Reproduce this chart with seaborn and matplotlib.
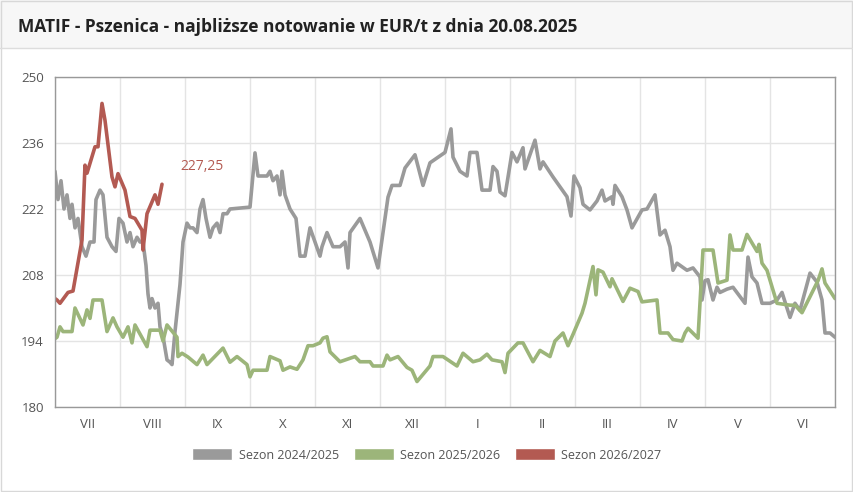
import numpy as np
import pandas as pd
import matplotlib
matplotlib.use("Agg")
import matplotlib.pyplot as plt
from matplotlib.patches import Rectangle
import seaborn as sns

# season position (0..780 = Jul 1 .. Jun 30, 65 units per month), price EUR/t
months = ["VII", "VIII", "IX", "X", "XI", "XII", "I", "II", "III", "IV", "V", "VI"]
series_names = ["Sezon 2024/2025", "Sezon 2025/2026", "Sezon 2026/2027"]
last_label = "227,25"

gray_pts = [(0,230),(3,224),(6,228),(9,222),(12,225),(15,220),(17,223),(20,218),(23,220),(27,214),(31,212),(35,215),
    (39,215),(41,224),(45,226),(48,225),(52,216),(57,214),(61,213),(64,220),(68,219),(72,215),(75,217),(78,214),
    (82,216),(85,215),(88,215),(91,210),(93,204),(95,201),(97,203),(100,201),(103,202),(105,197),(108,195),(112,190),
    (115,189.5),(117,189),(120,196),(125,206),(128,215),(132,219),(135,218),(138,218),(142,217),(145,222),(148,224),
    (151,220),(155,216),(158,218),(162,219),(165,217),(168,221),(172,221),(175,222),(195,222.4),(200,233.9),(203,229),
    (208,229),(212,229),(215,230),(218,228),(222,229),(225,225),(227,230),(230,225),(235,222),(241,220),(245,212),
    (250,212),(255,218),(260,215),(265,212),(267,214),(272,217),(278,214),(285,214),(290,215),(293,209.5),(295,217),
    (305,220),(315,215),(323,209.5),(333,224.5),(337,227),(345,227),(350,230.7),(360,233.5),(368,227),(375,231.8),
    (390,234),(396,239),(398,233),(405,230),(412,229),(415,234),(422,234),(427,226),(435,226),(438,231),(442,230),
    (445,225.6),(450,224.8),(457,234),(462,232),(468,235),(470,230.5),(480,236.6),(485,230.5),(488,232),(498,228.8),
    (512,224.6),(516,220.5),(519,229),(525,226.5),(528,223),(535,221.8),(542,223.7),(547,226),(550,223.7),
    (557,224.6),(558,223),(560,227),(567,224.6),(572,221.8),(577,218),(587,221.8),(592,222),(600,225),(605,216.5),
    (610,217.5),(615,214),(618,209),(622,210.5),(632,209),(638,209.5),(645,207.6),(647,202.7),(650,206.8),(653,207),
    (658,202.7),(662,205.4),(665,204.3),(672,205),(678,205.4),(690,202),(693,211.8),(697,207.6),(702,206.3),
    (707,202),(715,202),(722,202.7),(727,204.3),(735,199),(740,202),(745,200.5),(755,208.4),(762,206.5),(767,202.7),
    (770,195.7),(775,195.7),(780,194.8)]

green_pts = [(0,194.5),(2,194.8),(5,197),(8,196),(17,196),(20,201),(28,197.4),(32,200.6),(35,198.8),(38,202.7),
    (47,202.7),(52,196),(58,198.9),(62,197),(68,194.8),(73,197),(77,193.6),(80,197.4),(92,192.8),(95,196.3),
    (105,196.3),(108,194),(112,197.4),(122,194.8),(123,190.7),(127,191.4),(133,190.6),(142,189),(148,191),(152,189),
    (168,192.5),(175,189.5),(182,190.7),(192,189),(195,186.4),(198,187.8),(212,187.8),(215,190.7),(225,189.8),
    (228,187.8),(235,188.5),(242,188),(248,190),(253,193),(258,193),(265,193.6),(268,194.6),(272,194.9),(275,191.7),
    (285,189.6),(300,190.7),(305,189.6),(315,189.6),(318,188.7),(328,188.7),(332,191),(335,190),(343,190.7),
    (352,188.4),(357,187.8),(362,185.4),(375,188.7),(378,190.7),(388,190.7),(402,188.7),(408,191.4),(418,189.6),
    (425,190),(432,191.2),(437,190),(447,189.6),(450,187.3),(453,191.4),(463,193.6),(468,193.6),(478,189.6),(485,192),
    (495,190.7),(500,194),(508,195.7),(513,193),(518,195.4),(527,199.9),(530,202),(538,209.8),(541,203.8),
    (543,209.1),(548,208.6),(555,205.5),(557,207.2),(568,202.4),(575,205.2),(583,204.5),(587,202.3),(602,202.7),
    (605,195.7),(613,195.7),(618,194.3),(627,194),(630,195.7),(633,196.7),(643,194.6),(648,213.3),(658,213.3),
    (663,206.3),(672,206.9),(675,216.5),(678,213.3),(687,213.3),(692,216.6),(702,213),(704,214.5),(707,210.5),
    (712,209),(722,202),(735,201.6),(740,201.6),(747,200),(755,203.4),(763,206.8),(767,209.3),(770,206.3),(780,203)]

red_pts = [(0,203),(2,202.7),(5,202),(13,204.3),(18,204.6),(27,215.4),(30,231.3),(32,229.6),(40,235.2),(43,235.2),
    (47,244.4),(50,240.8),(57,228.8),(60,226.7),(63,229.5),(70,226),(75,220.4),(80,220),(87,217.5),(88,213.3),
    (92,221),(100,225),(103,223),(107,227.25)]

gray_t, gray_v = map(list, zip(*gray_pts))
green_t, green_v = map(list, zip(*green_pts))
red_t, red_v = map(list, zip(*red_pts))

df = pd.concat([
    pd.DataFrame({"t": gray_t, "v": gray_v, "s": series_names[0]}),
    pd.DataFrame({"t": green_t, "v": green_v, "s": series_names[1]}),
    pd.DataFrame({"t": red_t, "v": red_v, "s": series_names[2]}),
])
palette = dict(zip(series_names, ["#9a9a9a", "#9cb57a", "#b35a52"]))

sns.set_theme(style="white")
plt.rcParams["font.family"] = ["Open Sans", "DejaVu Sans"]
fig = plt.figure(figsize=(8.54, 4.92), dpi=100)
fig.patch.set_facecolor("white")
fig.patches.append(Rectangle((0, 1 - 48 / 492), 1, 48 / 492, transform=fig.transFigure,
                             facecolor="#f7f7f7", edgecolor="none", zorder=0))
fig.lines.append(plt.Line2D([0, 1], [1 - 48 / 492] * 2, transform=fig.transFigure, color="#dddddd", lw=1))
fig.patches.append(Rectangle((0.001, 0.002), 0.997, 0.996, transform=fig.transFigure,
                             facecolor="none", edgecolor="#d8d8d8", lw=1))
fig.text(18 / 854, 1 - 27 / 492, "MATIF - Pszenica - najbliższe notowanie w EUR/t z dnia 20.08.2025",
         fontsize=12.5, fontweight="bold", color="#222222", va="center", ha="left")

ax = fig.add_axes([55 / 854, 1 - 407 / 492, 780 / 854, 330 / 492])
sns.lineplot(data=df, x="t", y="v", hue="s", palette=palette, lw=2.6, estimator=None, sort=False,
             units="s", ax=ax, legend=False)
ax.set_xlim(0, 780)
ax.set_ylim(180, 250)
ax.set_yticks([180, 194, 208, 222, 236, 250])
ax.set_xticks(np.arange(0, 781, 65))
ax.set_xticks(np.arange(32.5, 780, 65), minor=True)
ax.set_xticklabels([])
ax.set_xticklabels(months, minor=True)
ax.tick_params(axis="x", which="major", length=0)
ax.tick_params(axis="x", which="minor", length=0, labelsize=9.5, colors="#555555", pad=8)
ax.tick_params(axis="y", length=0, labelsize=9.5, colors="#555555", pad=8)
ax.grid(True, which="major", color="#e4e4e4", lw=1)
ax.set_xlabel("")
ax.set_ylabel("")
for sp in ax.spines.values():
    sp.set_color("#999999")
    sp.set_linewidth(1)
ax.text(125, 231, last_label, color="#b35a52", fontsize=10, ha="left", va="center")

handles = [Rectangle((0, 0), 1, 1, facecolor=c) for c in palette.values()]
fig.legend(handles, series_names, loc="center", bbox_to_anchor=(0.5, 1 - 455 / 492), ncol=3,
           frameon=False, fontsize=9, labelcolor="#555555", handlelength=3.2, handleheight=1.1,
           columnspacing=1.2, handletextpad=0.5)
fig.savefig("out.png", dpi=100)
